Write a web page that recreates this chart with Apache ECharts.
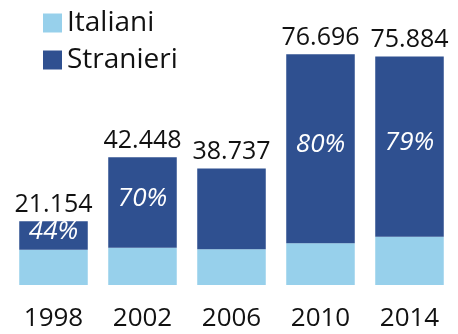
<!DOCTYPE html>
<html>
<head>
<meta charset="utf-8">
<script src="https://cdn.jsdelivr.net/npm/echarts@6/dist/echarts.min.js"></script>
<style>
  html, body { margin: 0; padding: 0; background: #fff; }
  #chart { width: 458px; height: 334px; }
</style>
</head>
<body>
<div id="chart"></div>
<script>
// Years on the x axis
const years = ['1998', '2002', '2006', '2010', '2014'];
// Values in thousands
const italiani = [11.75, 12.4, 11.85, 13.85, 16.05];
const stranieri = [9.404, 30.048, 26.887, 62.846, 59.834];
// Totals shown above each bar
const totalLabels = ['21.154', '42.448', '38.737', '76.696', '75.884'];
// Share of Stranieri shown inside the dark segment
const shareLabels = ['44%', '70%', '', '80%', '79%'];

const FONT = '"Open Sans", "Noto Sans", sans-serif';
const chart = echarts.init(document.getElementById('chart'), null, { renderer: 'canvas' });

chart.setOption({
  animation: false,
  backgroundColor: '#ffffff',
  legend: {
    orient: 'vertical',
    left: 38,
    top: 4,
    itemWidth: 19,
    itemHeight: 19,
    itemGap: 9,
    icon: 'rect',
    textStyle: { fontFamily: FONT, fontSize: 28, color: '#111' },
    data: ['Italiani', 'Stranieri']
  },
  grid: { left: 9, right: 4, top: 44.2, bottom: 49, containLabel: false },
  xAxis: {
    type: 'category',
    data: years,
    axisLine: { show: false },
    axisTick: { show: false },
    axisLabel: { fontFamily: FONT, fontSize: 26, color: '#111', margin: 21 }
  },
  yAxis: {
    type: 'value',
    min: 0,
    max: 80,
    show: false,
    splitLine: { show: false }
  },
  series: [
    {
      name: 'Italiani',
      type: 'bar',
      stack: 'tot',
      data: italiani,
      barCategoryGap: '23%',
      itemStyle: { color: '#97D0EB' }
    },
    {
      name: 'Stranieri',
      type: 'bar',
      stack: 'tot',
      data: stranieri,
      barCategoryGap: '23%',
      itemStyle: { color: '#2F5090' },
      label: {
        show: true,
        position: 'inside',
        offset: [0, -4],
        formatter: p => shareLabels[p.dataIndex],
        fontFamily: FONT,
        fontStyle: 'italic',
        fontSize: 26,
        color: '#ffffff'
      }
    },
    {
      // Zero-height carrier for the total labels above each stack
      name: 'Totale',
      type: 'bar',
      stack: 'tot',
      data: years.map(() => 0),
      barCategoryGap: '23%',
      itemStyle: { color: 'transparent' },
      label: {
        show: true,
        position: 'top',
        distance: 4,
        formatter: p => totalLabels[p.dataIndex],
        fontFamily: FONT,
        fontSize: 25,
        color: '#111'
      }
    }
  ]
});
</script>
</body>
</html>
